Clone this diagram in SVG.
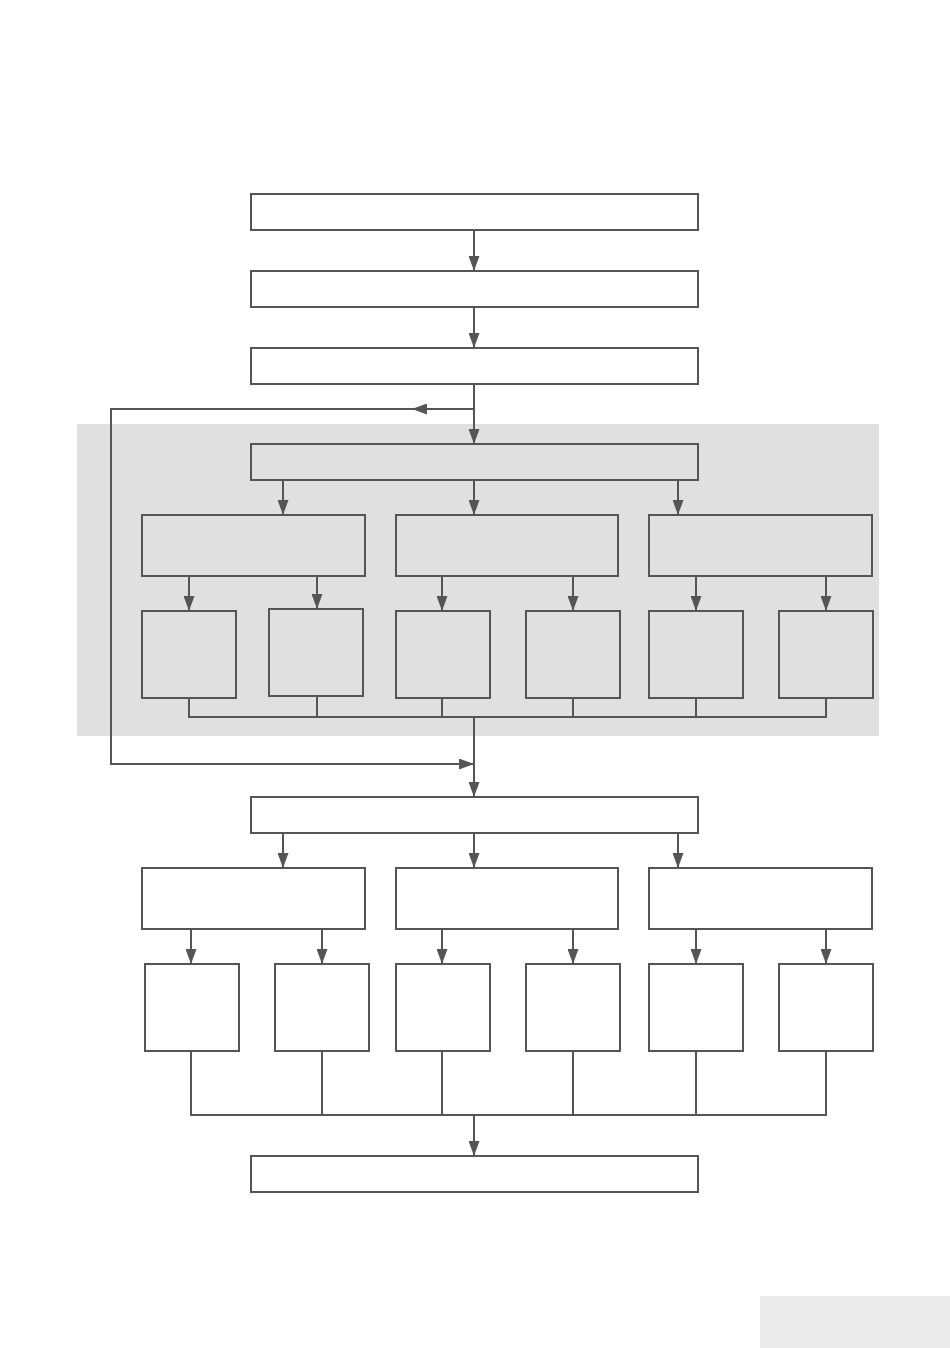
<svg xmlns="http://www.w3.org/2000/svg" width="950" height="1348" viewBox="0 0 950 1348">
<style>
.n{fill:none;stroke:#555555;stroke-width:2}
.c{fill:none;stroke:#555555;stroke-width:2}
.a{marker-end:url(#arr)}
</style>
<defs>
<marker id="arr" markerUnits="userSpaceOnUse" viewBox="0 0 15 11" refX="15" refY="5.5" markerWidth="15" markerHeight="11" orient="auto">
<path d="M0,0 L15,5.5 L0,11 Z" fill="#555555"/>
</marker>
</defs>
<rect x="0" y="0" width="950" height="1348" fill="#ffffff"/>
<rect id="region" x="77" y="424" width="802" height="312" fill="#e0e0e0"/>
<rect id="corner" x="760" y="1296" width="190" height="52" fill="#ebebeb"/>

<g id="n1"><rect class="n" x="251" y="194" width="447" height="36"/></g>
<g id="n2"><rect class="n" x="251" y="271" width="447" height="36"/></g>
<g id="n3"><rect class="n" x="251" y="348" width="447" height="36"/></g>
<g id="n4"><rect class="n" x="251" y="444" width="447" height="36"/></g>
<g id="n5"><rect class="n" x="142" y="515" width="223" height="61"/></g>
<g id="n6"><rect class="n" x="396" y="515" width="222" height="61"/></g>
<g id="n7"><rect class="n" x="649" y="515" width="223" height="61"/></g>
<g id="n8"><rect class="n" x="142" y="611" width="94" height="87"/></g>
<g id="n9"><rect class="n" x="269" y="609" width="94" height="87"/></g>
<g id="n10"><rect class="n" x="396" y="611" width="94" height="87"/></g>
<g id="n11"><rect class="n" x="526" y="611" width="94" height="87"/></g>
<g id="n12"><rect class="n" x="649" y="611" width="94" height="87"/></g>
<g id="n13"><rect class="n" x="779" y="611" width="94" height="87"/></g>
<g id="n14"><rect class="n" x="251" y="797" width="447" height="36"/></g>
<g id="n15"><rect class="n" x="142" y="868" width="223" height="61"/></g>
<g id="n16"><rect class="n" x="396" y="868" width="222" height="61"/></g>
<g id="n17"><rect class="n" x="649" y="868" width="223" height="61"/></g>
<g id="n18"><rect class="n" x="145" y="964" width="94" height="87"/></g>
<g id="n19"><rect class="n" x="275" y="964" width="94" height="87"/></g>
<g id="n20"><rect class="n" x="396" y="964" width="94" height="87"/></g>
<g id="n21"><rect class="n" x="526" y="964" width="94" height="87"/></g>
<g id="n22"><rect class="n" x="649" y="964" width="94" height="87"/></g>
<g id="n23"><rect class="n" x="779" y="964" width="94" height="87"/></g>
<g id="n24"><rect class="n" x="251" y="1156" width="447" height="36"/></g>

<g id="connectors">
<path class="c a" d="M474,230 V271"/>
<path class="c a" d="M474,307 V348"/>
<path class="c a" d="M474,384 V444"/>
<path class="c a" d="M474,409 H412"/>
<path class="c a" d="M413,409 H111 V764 H474"/>
<path class="c a" d="M283,480 V515"/>
<path class="c a" d="M474,480 V515"/>
<path class="c a" d="M678,480 V515"/>
<path class="c a" d="M189,576 V611"/>
<path class="c a" d="M317,576 V609"/>
<path class="c a" d="M442,576 V611"/>
<path class="c a" d="M573,576 V611"/>
<path class="c a" d="M696,576 V611"/>
<path class="c a" d="M826,576 V611"/>
<path class="c" d="M189,698 V717 H826 V698"/>
<path class="c" d="M317,696 V717"/>
<path class="c" d="M442,698 V717"/>
<path class="c" d="M573,698 V717"/>
<path class="c" d="M696,698 V717"/>
<path class="c a" d="M474,717 V797"/>
<path class="c a" d="M283,833 V868"/>
<path class="c a" d="M474,833 V868"/>
<path class="c a" d="M678,833 V868"/>
<path class="c a" d="M191,929 V964"/>
<path class="c a" d="M322,929 V964"/>
<path class="c a" d="M442,929 V964"/>
<path class="c a" d="M573,929 V964"/>
<path class="c a" d="M696,929 V964"/>
<path class="c a" d="M826,929 V964"/>
<path class="c" d="M191,1051 V1115 H826 V1051"/>
<path class="c" d="M322,1051 V1115"/>
<path class="c" d="M442,1051 V1115"/>
<path class="c" d="M573,1051 V1115"/>
<path class="c" d="M696,1051 V1115"/>
<path class="c a" d="M474,1115 V1156"/>
</g>
</svg>
